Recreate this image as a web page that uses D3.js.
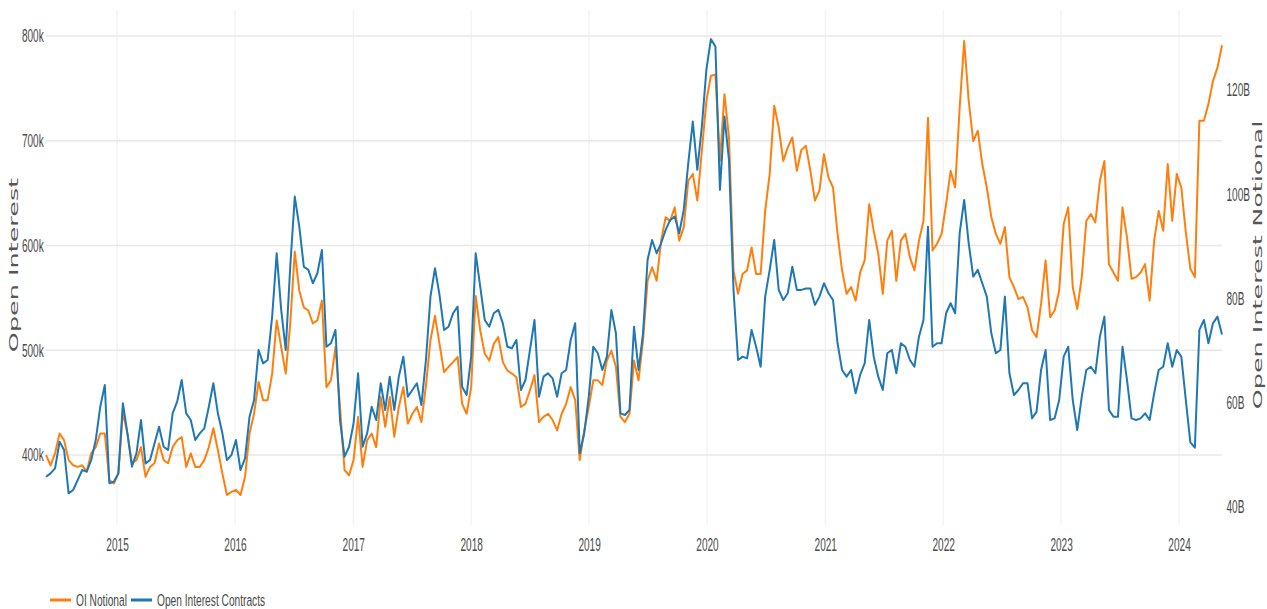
<!DOCTYPE html>
<html>
<head>
<meta charset="utf-8">
<script src="https://cdn.jsdelivr.net/npm/d3@7"></script>
<style>
    body { margin: 0; background: #fff; }
    #chart { width: 1267px; height: 609px; }
    .tick text, .legend text { font-family: "Liberation Sans", Arial, sans-serif; fill: #4a4a4a; }
    .axis-title { font-family: "DejaVu Sans", Verdana, sans-serif; fill: #555; }
</style>
</head>
<body>
<div id="chart"></div>
<script>
// series sampled every 14 days starting here
const startDate = "2014-05-26";
const stepDays = 14;

// open interest contracts, thousands
const oiContracts = [
    379.3, 382.5, 387.3, 412.7, 404.8, 363.4, 366.6, 376.1, 385.7, 384.1,
    395.2, 414.3, 446.1, 466.9, 373.0, 374.5, 382.5, 449.4, 420.7, 388.9,
    401.6, 433.4, 392.0, 395.2, 411.2, 427.0, 407.9, 404.8, 439.8, 450.9,
    471.6, 439.8, 433.4, 414.3, 420.7, 425.5, 446.1, 468.5, 439.8, 420.7,
    395.2, 400.0, 414.3, 385.7, 396.8, 436.6, 452.5, 500.3, 487.5, 490.7,
    532.1, 592.6, 538.5, 500.3, 579.8, 646.7, 618.0, 579.8, 576.7, 564.0,
    573.5, 595.8, 503.4, 506.7, 519.4, 433.4, 398.4, 407.9, 430.3, 478.0,
    407.9, 420.7, 446.1, 433.4, 468.5, 443.0, 474.8, 443.0, 474.8, 493.9,
    455.7, 462.1, 468.5, 447.8, 490.7, 551.2, 578.3, 552.8, 519.4, 522.5,
    535.3, 541.6, 465.2, 457.3, 493.9, 592.6, 560.7, 528.9, 522.5, 535.3,
    538.5, 525.7, 503.4, 501.9, 509.8, 462.1, 471.6, 500.3, 528.9, 455.7,
    474.8, 478.0, 473.2, 455.7, 478.0, 481.2, 509.8, 525.7, 401.6, 420.7,
    455.7, 503.4, 497.1, 481.2, 493.9, 538.5, 516.2, 439.8, 438.2, 443.0,
    522.5, 481.2, 516.2, 586.2, 605.3, 592.6, 602.1, 614.9, 624.4, 627.6,
    611.7, 634.0, 678.6, 718.3, 672.2, 713.5, 767.7, 797.0, 789.9, 653.1,
    723.1, 681.7, 557.6, 490.7, 493.9, 492.3, 519.4, 503.4, 484.3, 551.2,
    576.7, 605.3, 557.6, 548.0, 554.4, 579.8, 557.6, 557.6, 559.0, 559.0,
    543.3, 551.2, 564.0, 554.4, 548.0, 506.7, 481.2, 474.8, 481.2, 458.9,
    476.4, 487.5, 528.9, 493.9, 474.8, 462.1, 497.1, 500.3, 478.0, 506.7,
    503.4, 490.7, 484.3, 513.0, 528.9, 618.0, 503.4, 506.7, 506.7, 535.3,
    544.9, 535.3, 611.7, 643.5, 602.1, 570.3, 576.7, 564.0, 551.2, 516.2,
    497.1, 500.3, 551.2, 478.0, 457.3, 462.1, 468.5, 468.5, 435.0, 441.4,
    481.2, 500.3, 433.4, 435.0, 452.5, 493.9, 503.4, 452.5, 423.9, 455.7,
    481.2, 484.3, 478.0, 513.0, 532.1, 443.0, 436.6, 436.6, 503.4, 471.6,
    435.0, 433.4, 435.0, 439.8, 433.4, 458.9, 481.2, 484.3, 506.7, 484.3,
    500.3, 493.9, 452.5, 412.0, 407.0, 519.4, 528.9, 506.7, 525.7, 532.1,
    515.0
];

// OI notional, billions
const oiNotional = [
    50.0, 48.0, 50.3, 54.1, 52.8, 49.0, 48.0, 47.7, 48.0, 46.8,
    50.3, 51.5, 54.1, 54.1, 45.2, 44.5, 46.4, 58.2, 54.1, 48.4,
    49.0, 51.5, 45.8, 47.7, 48.4, 52.2, 49.0, 48.4, 51.5, 52.8,
    53.4, 47.7, 50.3, 47.7, 47.7, 49.0, 51.5, 55.1, 50.9, 46.4,
    42.3, 42.9, 43.3, 42.3, 45.8, 54.1, 57.9, 64.0, 60.5, 60.5,
    65.6, 75.8, 70.7, 65.6, 75.2, 89.0, 81.5, 78.3, 77.7, 75.2,
    75.8, 79.6, 63.0, 64.3, 70.7, 59.2, 47.1, 46.1, 49.0, 57.3,
    47.7, 52.8, 54.1, 51.5, 61.1, 55.4, 61.1, 53.5, 59.2, 63.0,
    56.0, 57.9, 59.2, 56.3, 63.3, 72.0, 76.7, 71.3, 65.9, 66.9,
    67.8, 68.8, 59.8, 57.9, 63.0, 80.5, 73.9, 69.4, 68.1, 71.3,
    72.6, 67.8, 66.2, 65.6, 64.9, 59.2, 59.8, 62.4, 65.3, 56.3,
    57.3, 57.9, 56.7, 54.7, 57.9, 59.8, 63.0, 60.5, 49.0, 54.7,
    59.2, 64.3, 64.3, 63.4, 68.1, 70.0, 66.9, 57.3, 56.3, 57.9,
    68.1, 64.3, 72.0, 83.4, 86.0, 83.4, 91.1, 95.6, 94.9, 97.5,
    91.1, 93.7, 102.6, 103.9, 98.8, 108.3, 117.9, 122.7, 123.0, 106.4,
    119.2, 110.9, 85.4, 80.9, 84.7, 85.4, 89.8, 84.7, 84.7, 96.8,
    103.9, 117.0, 112.8, 106.4, 109.0, 110.9, 104.5, 108.5, 109.3, 104.5,
    98.8, 100.7, 107.7, 103.2, 101.3, 92.4, 85.4, 80.9, 82.2, 79.6,
    85.0, 87.3, 98.1, 93.0, 88.6, 80.9, 91.1, 93.0, 83.4, 91.1,
    92.4, 87.9, 85.4, 91.1, 94.9, 114.7, 89.2, 90.5, 92.4, 98.1,
    104.5, 101.3, 116.6, 129.4, 117.9, 110.2, 112.2, 105.8, 101.3, 95.6,
    92.4, 90.5, 93.7, 84.1, 82.2, 79.9, 80.3, 78.3, 73.9, 72.6,
    79.0, 87.3, 76.4, 77.7, 81.5, 94.3, 97.5, 82.2, 78.0, 84.1,
    94.9, 96.2, 94.6, 102.6, 106.4, 86.6, 85.0, 83.4, 97.5, 91.7,
    83.8, 84.1, 85.0, 86.6, 79.6, 91.1, 96.8, 93.0, 105.8, 94.9,
    103.9, 101.3, 92.7, 85.7, 84.1, 114.1, 114.1, 117.3, 121.7, 124.3,
    128.6
];

const leftTicks = [400, 500, 600, 700, 800];
const rightTicks = [40, 60, 80, 100, 120];
const yearTicks = [2015, 2016, 2017, 2018, 2019, 2020, 2021, 2022, 2023, 2024];
const seriesNames = ["OI Notional", "Open Interest Contracts"];
const seriesColors = ["#ff7f0e", "#1f77b4"];

class OIChart {
    constructor(parentElement) {
        this.parentElement = parentElement;
        this.initVis();
    }

    initVis() {
        let vis = this;
        vis.margin = {top: 10, right: 45, bottom: 84, left: 46};
        vis.width = 1267 - vis.margin.left - vis.margin.right;
        vis.height = 609 - vis.margin.top - vis.margin.bottom;

        vis.svg = d3.select("#" + vis.parentElement).append("svg")
            .attr("width", 1267)
            .attr("height", 609)
            .append("g")
            .attr("transform", `translate(${vis.margin.left}, ${vis.margin.top})`);

        // dates for every sample
        let t0 = d3.timeParse("%Y-%m-%d")(startDate);
        vis.dates = oiContracts.map((d, i) => d3.timeDay.offset(t0, i * stepDays));

        vis.x = d3.scaleTime()
            .domain([vis.dates[0], vis.dates[vis.dates.length - 1]])
            .range([0, vis.width]);
        vis.yLeft = d3.scaleLinear()
            .domain([333.2, 824.8])
            .range([vis.height, 0]);
        vis.yRight = d3.scaleLinear()
            .domain([36.55, 135.35])
            .range([vis.height, 0]);

        vis.wrangleData();
    }

    wrangleData() {
        let vis = this;
        vis.contracts = vis.dates.map((d, i) => ({date: d, value: oiContracts[i]}));
        vis.notional = vis.dates.map((d, i) => ({date: d, value: oiNotional[i]}));
        vis.updateVis();
    }

    updateVis() {
        let vis = this;

        // grid
        vis.svg.append("g").selectAll("line")
            .data(yearTicks)
            .enter().append("line")
            .attr("x1", d => vis.x(new Date(d, 0, 1)))
            .attr("x2", d => vis.x(new Date(d, 0, 1)))
            .attr("y1", 0)
            .attr("y2", vis.height)
            .attr("stroke", "#eeeeee")
            .attr("stroke-width", 1);

        vis.svg.append("g").selectAll("line")
            .data(leftTicks)
            .enter().append("line")
            .attr("x1", 0)
            .attr("x2", vis.width)
            .attr("y1", d => vis.yLeft(d))
            .attr("y2", d => vis.yLeft(d))
            .attr("stroke", "#e8e8e8")
            .attr("stroke-width", 1.5);

        // axes
        let xAxis = d3.axisBottom(vis.x)
            .tickValues(yearTicks.map(d => new Date(d, 0, 1)))
            .tickFormat(d3.timeFormat("%Y"))
            .tickSize(0)
            .tickPadding(13);
        let leftAxis = d3.axisLeft(vis.yLeft)
            .tickValues(leftTicks)
            .tickFormat(d => d + "k")
            .tickSize(0)
            .tickPadding(4);
        let rightAxis = d3.axisRight(vis.yRight)
            .tickValues(rightTicks)
            .tickFormat(d => d + "B")
            .tickSize(0)
            .tickPadding(8);

        vis.svg.append("g").attr("transform", `translate(0, ${vis.height})`).call(xAxis);
        vis.svg.append("g").call(leftAxis);
        vis.svg.append("g").attr("transform", `translate(${vis.width}, 0)`).call(rightAxis);
        vis.svg.selectAll(".domain").remove();
        vis.svg.selectAll(".tick text")
            .style("font-size", "18px")
            .attr("transform", "scale(0.56,1)");

        // lines
        let lineLeft = d3.line().x(d => vis.x(d.date)).y(d => vis.yLeft(d.value));
        let lineRight = d3.line().x(d => vis.x(d.date)).y(d => vis.yRight(d.value));

        vis.svg.append("path")
            .datum(vis.notional)
            .attr("fill", "none")
            .attr("stroke", seriesColors[0])
            .attr("stroke-width", 2)
            .attr("stroke-linejoin", "round")
            .attr("d", lineRight);

        vis.svg.append("path")
            .datum(vis.contracts)
            .attr("fill", "none")
            .attr("stroke", seriesColors[1])
            .attr("stroke-width", 2)
            .attr("stroke-linejoin", "round")
            .attr("d", lineLeft);

        // axis titles
        vis.svg.append("text")
            .attr("class", "axis-title")
            .attr("transform", `translate(${14 - vis.margin.left}, ${265 - vis.margin.top}) rotate(-90) scale(1.7,0.85)`)
            .attr("text-anchor", "middle")
            .attr("dominant-baseline", "central")
            .style("font-size", "15px")
            .text("Open Interest");

        vis.svg.append("text")
            .attr("class", "axis-title")
            .attr("transform", `translate(${1258 - vis.margin.left}, ${265 - vis.margin.top}) rotate(-90) scale(1.7,0.85)`)
            .attr("text-anchor", "middle")
            .attr("dominant-baseline", "central")
            .style("font-size", "15px")
            .text("Open Interest Notional");

        // legend
        let legend = d3.select("#" + vis.parentElement).select("svg").append("g")
            .attr("class", "legend")
            .attr("transform", "translate(50, 600)");
        let offsets = [0, 81];
        seriesNames.forEach((name, i) => {
            let item = legend.append("g").attr("transform", `translate(${offsets[i]}, 0)`);
            item.append("line")
                .attr("x1", 0).attr("x2", 21)
                .attr("stroke", seriesColors[i])
                .attr("stroke-width", 3);
            item.append("text")
                .attr("x", 26 / 0.6)
                .attr("dominant-baseline", "central")
                .attr("transform", "scale(0.6,1)")
                .style("font-size", "17px")
                .text(name);
        });
    }
}

new OIChart("chart");
</script>
</body>
</html>
